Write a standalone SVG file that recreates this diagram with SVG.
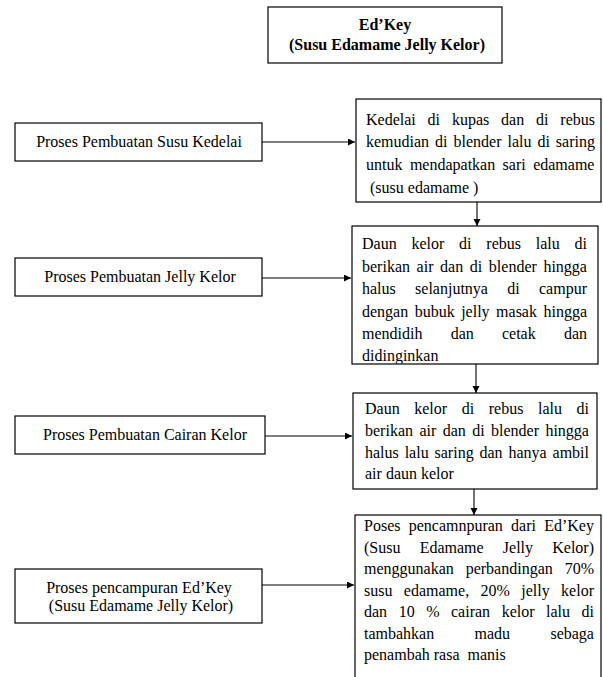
<svg xmlns="http://www.w3.org/2000/svg" width="603" height="677" viewBox="0 0 603 677">
<style>
.box{fill:#fff;stroke:#000;stroke-width:1.2}
.t{font-family:"Liberation Serif","Times New Roman",serif;font-size:16px;fill:#000}
.c{text-anchor:middle}
.b{font-weight:bold}
.con{stroke:#000;stroke-width:1.1;fill:none;marker-end:url(#ah)}
</style>
<defs>
<marker id="ah" markerUnits="userSpaceOnUse" markerWidth="8" markerHeight="8" refX="7" refY="3.5" orient="auto">
<path d="M0,0 L7,3.5 L0,7 z" fill="#000"/>
</marker>
<clipPath id="c2"><rect x="352" y="226" width="246" height="137.5"/></clipPath>
</defs>
<rect width="603" height="677" fill="#fff"/>
<g id="title">
<rect class="box" x="268" y="7" width="234" height="56"/>
<text class="t b c" x="385" y="30">Ed’Key</text>
<text class="t b c" x="387" y="50">(Susu Edamame Jelly Kelor)</text>
</g>
<g id="left1">
<rect class="box" x="15" y="123" width="247" height="38"/>
<text class="t c" x="139" y="147">Proses Pembuatan Susu Kedelai</text>
</g>
<g id="left2">
<rect class="box" x="15" y="258" width="247" height="38"/>
<text class="t c" x="140" y="282">Proses Pembuatan Jelly Kelor</text>
</g>
<g id="left3">
<rect class="box" x="15" y="416" width="250" height="38"/>
<text class="t c" x="145" y="440">Proses Pembuatan Cairan Kelor</text>
</g>
<g id="left4">
<rect class="box" x="15" y="569" width="247" height="54"/>
<text class="t c" x="139" y="593">Proses pencampuran Ed’Key</text>
<text class="t c" x="141" y="611">(Susu Edamame Jelly Kelor)</text>
</g>
<g id="step1">
<rect class="box" x="356" y="99" width="245" height="103"/>
<text class="t" x="366" y="124.5" word-spacing="7.86">Kedelai di kupas dan di rebus</text>
<text class="t" x="366" y="147" word-spacing="1.98">kemudian di blender lalu di saring</text>
<text class="t" x="366" y="170" word-spacing="3.43">untuk mendapatkan sari edamame</text>
<text class="t" x="370" y="192.5">(susu edamame )</text>
</g>
<g id="step2">
<rect class="box" x="352" y="226" width="246" height="138"/>
<g clip-path="url(#c2)">
<text class="t" x="362" y="249" word-spacing="10.78">Daun kelor di rebus lalu di</text>
<text class="t" x="362" y="271.5" word-spacing="2.61">berikan air dan di blender hingga</text>
<text class="t" x="362" y="294" word-spacing="15.3">halus selanjutnya di campur</text>
<text class="t" x="362" y="316.5" word-spacing="2.48">dengan bubuk jelly masak hingga</text>
<text class="t" x="362" y="339" word-spacing="24.2">mendidih dan cetak dan</text>
<text class="t" x="362" y="361">didinginkan</text>
</g>
</g>
<g id="step3">
<rect class="box" x="353" y="393" width="244" height="96"/>
<text class="t" x="365" y="413.5" word-spacing="10.58">Daun kelor di rebus lalu di</text>
<text class="t" x="365" y="435.5" word-spacing="2.41">berikan air dan di blender hingga</text>
<text class="t" x="365" y="457.5" word-spacing="1.88">halus lalu saring dan hanya ambil</text>
<text class="t" x="365" y="479">air daun kelor</text>
</g>
<g id="step4">
<rect class="box" x="355" y="515" width="246" height="180"/>
<text class="t" x="364" y="531" word-spacing="4.23">Poses pencamnpuran dari Ed’Key</text>
<text class="t" x="364" y="552.5" word-spacing="15.2">(Susu Edamame Jelly Kelor)</text>
<text class="t" x="364" y="574" word-spacing="7.9">menggunakan perbandingan 70%</text>
<text class="t" x="364" y="595.5" word-spacing="7.4">susu edamame, 20% jelly kelor</text>
<text class="t" x="364" y="617" word-spacing="7.53">dan 10 % cairan kelor lalu di</text>
<text class="t" x="364" y="638.5" word-spacing="36.35">tambahkan madu sebaga</text>
<text class="t" x="364" y="660" xml:space="preserve">penambah rasa  manis</text>
</g>
<g id="connectors">
<line class="con" x1="262" y1="142" x2="355" y2="142"/>
<line class="con" x1="262" y1="278" x2="351" y2="278"/>
<line class="con" x1="265" y1="436" x2="352" y2="436"/>
<line class="con" x1="262" y1="585" x2="354" y2="585"/>
<line class="con" x1="477" y1="202" x2="477" y2="226"/>
<line class="con" x1="476" y1="364" x2="476" y2="393"/>
<line class="con" x1="474" y1="489" x2="474" y2="515"/>
</g>
</svg>
